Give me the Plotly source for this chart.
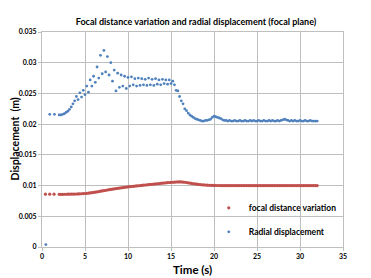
import plotly.graph_objects as go

# ---- data ----
T_START_RED = [0.4, 0.9, 1.4]
V_START_RED = [0.0086, 0.0086, 0.0086]
T_START_BLUE = [0.45, 0.9, 1.45]
V_START_BLUE = [0.0004, 0.0216, 0.0216]

# sampling grid of the dense part (2.0 s .. 32.0 s every 0.2 s)
T_DENSE = [round(2.0 + 0.2 * i, 1) for i in range(151)]

FOCAL = [
    0.00858, 0.00858, 0.00858, 0.00859, 0.00859, 0.00860, 0.00860, 0.00861, 0.00861, 0.00862, 0.00863,
    0.00864, 0.00865, 0.00867, 0.00869, 0.00871, 0.00874, 0.00877, 0.00880, 0.00884, 0.00888,
    0.00893, 0.00898, 0.00903, 0.00908, 0.00913, 0.00918, 0.00923, 0.00928, 0.00933, 0.00937,
    0.00942, 0.00947, 0.00951, 0.00955, 0.00959, 0.00963, 0.00967, 0.00971, 0.00975, 0.00979,
    0.00982, 0.00985, 0.00988, 0.00991, 0.00994, 0.00997, 0.01000, 0.01003, 0.01006, 0.01009,
    0.01012, 0.01015, 0.01018, 0.01021, 0.01024, 0.01027, 0.01030, 0.01033, 0.01036, 0.01039,
    0.01042, 0.01045, 0.01048, 0.01050, 0.01052, 0.01054, 0.01056, 0.01058, 0.01059, 0.01060,
    0.01059, 0.01057, 0.01054, 0.01050, 0.01045, 0.01040, 0.01035, 0.01030, 0.01026, 0.01022,
    0.01019, 0.01016, 0.01013, 0.01011, 0.01009, 0.01007, 0.01005, 0.01004, 0.01003, 0.01002,
    0.01001, 0.01001, 0.01001, 0.01000, 0.01000, 0.01000, 0.01000, 0.01000, 0.01000, 0.01000,
    0.01000, 0.01000, 0.01000, 0.01000, 0.01000, 0.01000, 0.01000, 0.01000, 0.01000, 0.01000,
    0.01000, 0.01000, 0.01000, 0.01000, 0.01000, 0.01000, 0.01000, 0.01000, 0.01000, 0.01000,
    0.01000, 0.01000, 0.01000, 0.01000, 0.01000, 0.01000, 0.01000, 0.01000, 0.01000, 0.01000,
    0.01000, 0.01000, 0.01000, 0.01000, 0.01000, 0.01000, 0.01000, 0.01000, 0.01000, 0.01000,
    0.01000, 0.01000, 0.01000, 0.01000, 0.01000, 0.01000, 0.01000, 0.01000, 0.01000, 0.01000,
]

RADIAL = [
    0.0215, 0.0215, 0.0216, 0.0217, 0.0219, 0.0221, 0.0224, 0.0228, 0.0233, 0.0238, 0.0245,
    0.0240, 0.0251, 0.0244, 0.0255, 0.0248, 0.0262, 0.0252, 0.0272, 0.0262, 0.0278,
    0.0268, 0.0293, 0.0275, 0.0312, 0.0282, 0.0320, 0.0285, 0.0310, 0.0280, 0.0300,
    0.0270, 0.0288, 0.0254, 0.0283, 0.0260, 0.0280, 0.0262, 0.0278, 0.0258, 0.0276,
    0.0262, 0.0277, 0.0264, 0.0274, 0.0262, 0.0275, 0.0263, 0.0274, 0.0264, 0.0273,
    0.0263, 0.0275, 0.0264, 0.0273, 0.0263, 0.0274, 0.0265, 0.0272, 0.0264, 0.0273,
    0.0266, 0.0272, 0.0265, 0.0272, 0.0266, 0.0270, 0.0264, 0.0255, 0.0254, 0.0245,
    0.0238, 0.0233, 0.0225, 0.0222, 0.0218, 0.0215, 0.0213, 0.0211, 0.0209, 0.0208,
    0.0207, 0.0206, 0.0205, 0.0205, 0.0206, 0.0206, 0.0207, 0.0208, 0.0211, 0.0213,
    0.0212, 0.0211, 0.0210, 0.0209, 0.0207, 0.0206, 0.0206, 0.0205, 0.0206, 0.0205,
    0.0205, 0.0206, 0.0205, 0.0205, 0.0206, 0.0205, 0.0205, 0.0206, 0.0205, 0.0205,
    0.0206, 0.0205, 0.0206, 0.0205, 0.0205, 0.0206, 0.0205, 0.0205, 0.0206, 0.0205,
    0.0205, 0.0206, 0.0205, 0.0206, 0.0205, 0.0205, 0.0206, 0.0205, 0.0206, 0.0207,
    0.0208, 0.0207, 0.0206, 0.0205, 0.0206, 0.0205, 0.0206, 0.0205, 0.0205, 0.0206,
    0.0205, 0.0205, 0.0206, 0.0205, 0.0205, 0.0206, 0.0205, 0.0205, 0.0205, 0.0205,
]

TITLE = "Focal distance variation and radial displacement (focal plane)"
X_TITLE = "Time (s)"
Y_TITLE = "Displacement  (m)"
NAME_RED = "focal distance variation"
NAME_BLUE = "Radial displacement"

RED = "#C0504D"
BLUE = "#4F81BD"
GRID = "#BFBFBF"
FONT = "Lato"

# the page body adds an 8 px offset, so the figure itself is 8 px smaller
W, H = 363, 270
PLOT_H = 214.9

fig = go.Figure()
fig.add_trace(go.Scatter(
    x=T_START_RED + T_DENSE, y=V_START_RED + FOCAL, mode="markers", name=NAME_RED,
    marker=dict(color=RED, size=3.2, line=dict(width=0)), legend="legend"))
fig.add_trace(go.Scatter(
    x=T_START_BLUE + T_DENSE, y=V_START_BLUE + RADIAL, mode="markers", name=NAME_BLUE,
    marker=dict(color=BLUE, size=2.8, line=dict(width=0)), legend="legend2"))

axis_common = dict(showgrid=True, gridcolor=GRID, gridwidth=1, showline=True, linecolor=GRID,
                   linewidth=1, mirror=True, zeroline=False, ticks="outside", ticklen=3,
                   tickcolor=GRID, tickfont=dict(family=FONT, size=7, color="#000000", weight="bold"))

legend_common = dict(xanchor="left", yanchor="top", bgcolor="rgba(0,0,0,0)",
                     font=dict(family=FONT, size=8.5, color="#000000", weight="bold"), itemwidth=30)

fig.update_layout(
    width=W, height=H,
    margin=dict(l=33.5, r=28.3, t=23.8, b=31.3, autoexpand=False),
    paper_bgcolor="white", plot_bgcolor="white",
    title=dict(text=f"<b>{TITLE}</b>", x=188 / W, xanchor="center", y=1 - 13.7 / H, yanchor="middle",
               font=dict(family=FONT, size=9, color="#000000")),
    xaxis=dict(range=[0, 35], dtick=5, tick0=0, **axis_common),
    yaxis=dict(range=[0, 0.035], dtick=0.005, tick0=0, **axis_common),
    legend=dict(x=0.554, y=(246.7 - 193) / PLOT_H, **legend_common),
    legend2=dict(x=0.554, y=(246.7 - 217) / PLOT_H, **legend_common),
    showlegend=True,
    annotations=[
        dict(text=f"<b>{X_TITLE}</b>", xref="paper", yref="paper", x=0.5, y=-22.3 / PLOT_H,
             xanchor="center", yanchor="middle", showarrow=False,
             font=dict(family=FONT, size=11.5, color="#000000")),
        dict(text=f"<b>{Y_TITLE}</b>", xref="paper", yref="paper", x=-28 / 301.2, y=0.5,
             xanchor="center", yanchor="middle", showarrow=False, textangle=-90, borderpad=0,
             font=dict(family=FONT, size=10.5, color="#000000")),
    ],
)

fig.write_html("out.html")
